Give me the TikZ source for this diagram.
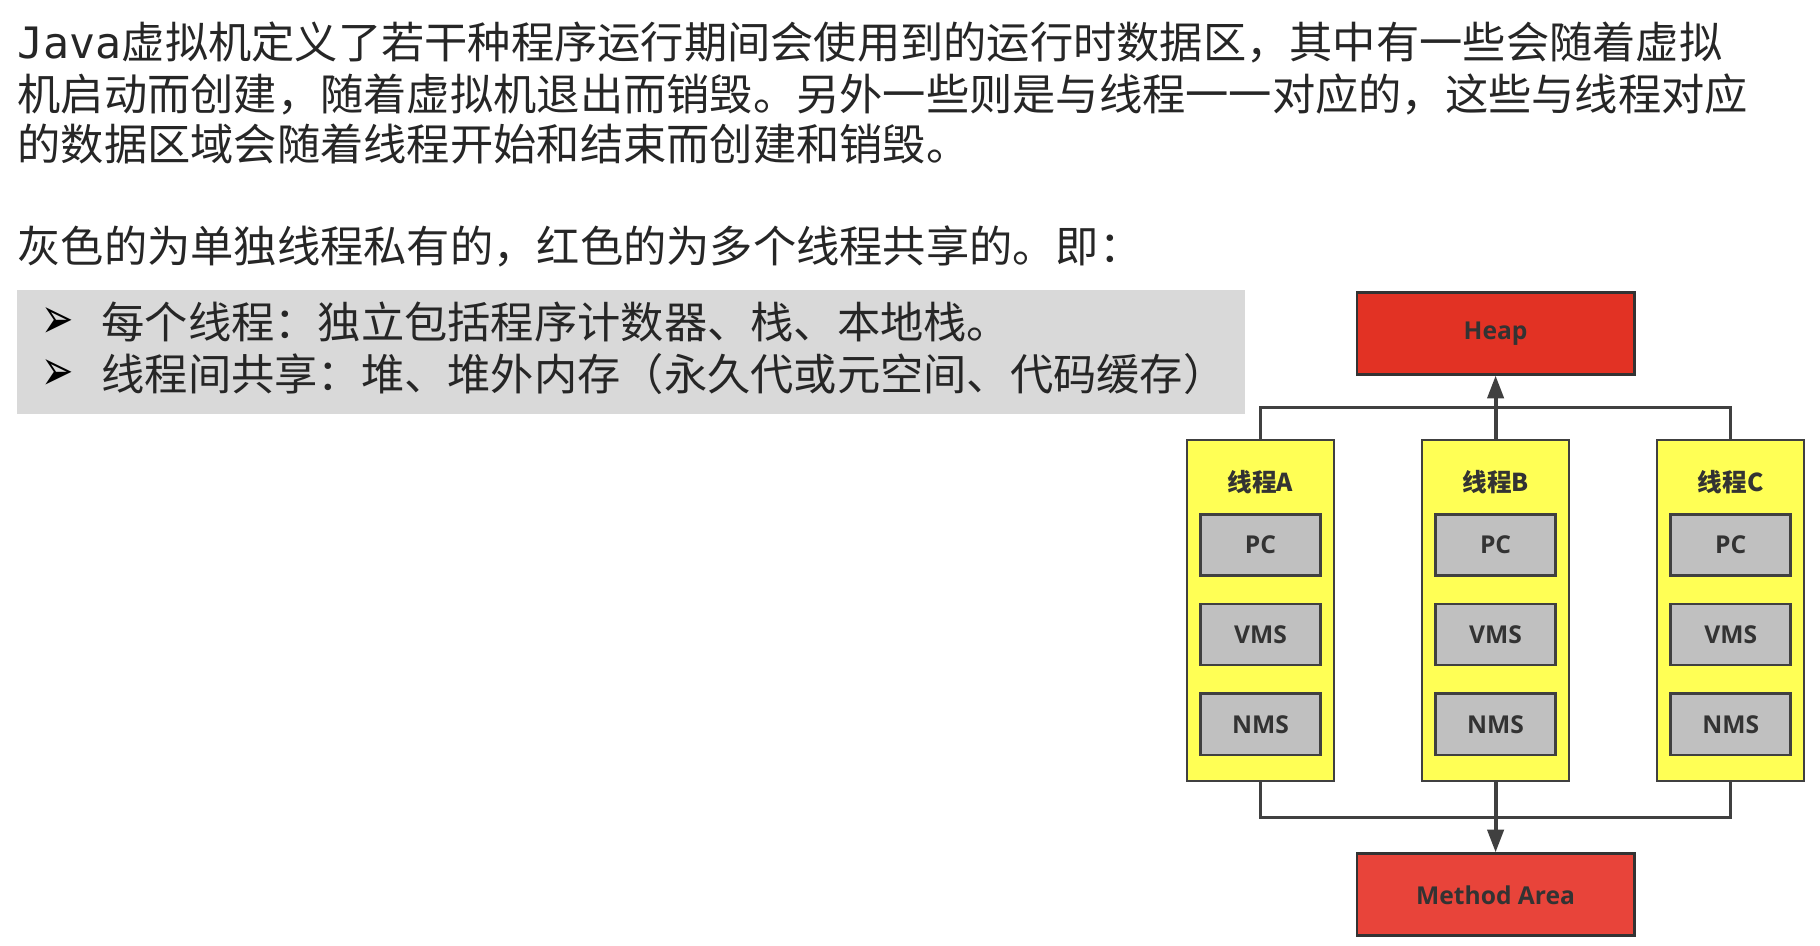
\documentclass[tikz,border=0pt]{standalone}
\usepackage{fontspec}
\usepackage{xcolor}
\setmainfont{Noto Sans CJK SC}
\newfontfamily\monofont{DejaVu Sans Mono}
\newfontfamily\symfont{DejaVu Sans}
\newfontfamily\labelfont{Open Sans}
\usetikzlibrary{arrows.meta, positioning, calc}

\definecolor{heapred}{RGB}{226,50,36}
\definecolor{methodred}{RGB}{232,68,58}
\definecolor{threadyellow}{RGB}{255,255,85}
\definecolor{cellgray}{RGB}{192,192,192}
\definecolor{notegray}{RGB}{217,217,217}
\definecolor{linegray}{RGB}{64,64,64}
\definecolor{inkgray}{RGB}{51,51,51}

\begin{document}
\begin{tikzpicture}[x=0.01cm,y=-0.01cm,node distance=0.26cm and 0.855cm,
  para/.style={anchor=base west,inner sep=0pt,text=black!85,font=\fontsize{12.3pt}{14.5pt}\selectfont},
  pointer/.style={anchor=west,inner sep=0pt,text=black,font=\symfont\bfseries\fontsize{11pt}{12pt}\selectfont},
  area/.style={draw=black!80,line width=0.8pt,minimum width=2.77cm,minimum height=0.82cm,text=inkgray,font=\labelfont\bfseries\fontsize{7pt}{8pt}\selectfont},
  thread/.style={draw=black!75,line width=0.7pt,fill=threadyellow,minimum width=1.47cm,minimum height=3.41cm},
  tname/.style={text=inkgray,font=\bfseries\fontsize{7pt}{8pt}\selectfont},
  cell/.style={draw=black!75,line width=0.8pt,fill=cellgray,minimum width=1.2cm,minimum height=0.61cm,text=inkgray,font=\labelfont\bfseries\fontsize{7pt}{8pt}\selectfont},
  bus/.style={draw=linegray,line width=0.85pt},
  arrow/.style={bus,line width=1.1pt,-{Triangle[length=6.5pt,width=4.6pt]}}]
  \fill[white] (0,0) rectangle (1820,946);
  \useasboundingbox (0,0) rectangle (1820,946);

  % text on the left
  \node[para] (intro1) at (17,59) {{\monofont Java}虚拟机定义了若干种程序运行期间会使用到的运行时数据区，其中有一些会随着虚拟};
  \node[para] (intro2) at (17,111) {机启动而创建，随着虚拟机退出而销毁。另外一些则是与线程一一对应的，这些与线程对应};
  \node[para] (intro3) at (17,161) {的数据区域会随着线程开始和结束而创建和销毁。};
  \node[para] (legend) at (17,263) {灰色的为单独线程私有的，红色的为多个线程共享的。即：};
  \fill[notegray] (17,290) rectangle (1245,414);
  \node[pointer] (dot1) at (41,323) {\scalebox{1}[1.5]{➢}};
  \node[para] (item1) at (101,339) {每个线程：独立包括程序计数器、栈、本地栈。};
  \node[pointer] (dot2) at (41,375) {\scalebox{1}[1.5]{➢}};
  \node[para] (item2) at (101,391) {线程间共享：堆、堆外内存（永久代或元空间、代码缓存）};

  % threads
  \node[thread] (thA) at (1260.5,610.5) {};
  \node[thread,right=of thA] (thB) {};
  \node[thread,right=of thB] (thC) {};

  \node[tname] (lblA) at ($(thA.north)+(0,43)$) {线程A};
  \node[cell] (pcA) at ($(thA.north)+(0,106)$) {PC};
  \node[cell,below=of pcA] (vmsA) {VMS};
  \node[cell,below=of vmsA] (nmsA) {NMS};

  \node[tname] (lblB) at ($(thB.north)+(0,43)$) {线程B};
  \node[cell] (pcB) at ($(thB.north)+(0,106)$) {PC};
  \node[cell,below=of pcB] (vmsB) {VMS};
  \node[cell,below=of vmsB] (nmsB) {NMS};

  \node[tname] (lblC) at ($(thC.north)+(0,43)$) {线程C};
  \node[cell] (pcC) at ($(thC.north)+(0,106)$) {PC};
  \node[cell,below=of pcC] (vmsC) {VMS};
  \node[cell,below=of vmsC] (nmsC) {NMS};

  % shared areas
  \node[area,fill=heapred,above=0.63cm of thB] (heap) {Heap};
  \node[area,fill=methodred,below=0.7cm of thB] (method) {Method Area};

  \coordinate (topjoin) at ($(thB.north)!0.5!(heap.south)$);
  \coordinate (botjoin) at ($(thB.south)!0.5!(method.north)$);
  \draw[bus] (thA.north) |- (topjoin) -| (thC.north);
  \draw[arrow] (thB.north) -- (heap.south);
  \draw[bus] (thA.south) |- (botjoin) -| (thC.south);
  \draw[arrow] (thB.south) -- (method.north);
\end{tikzpicture}
\end{document}
